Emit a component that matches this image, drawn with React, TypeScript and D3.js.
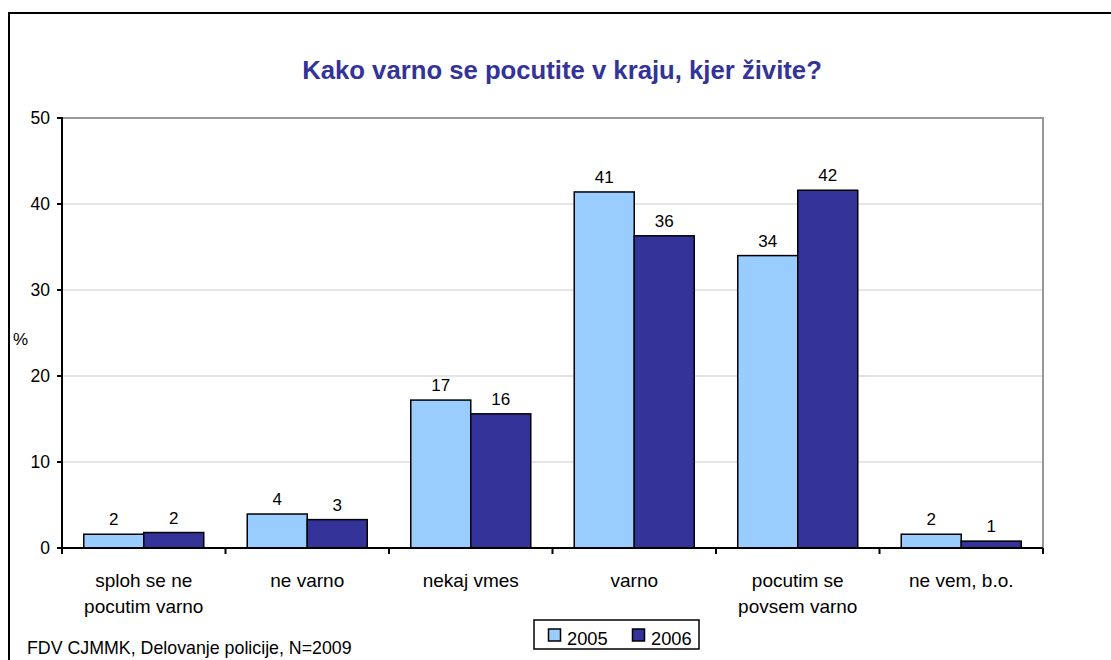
import React, { useRef, useEffect } from 'react';
import * as d3 from 'd3';

const categories = [
    ['sploh se ne', 'pocutim varno'],
    ['ne varno'],
    ['nekaj vmes'],
    ['varno'],
    ['pocutim se', 'povsem varno'],
    ['ne vem, b.o.'],
];
const seriesNames = ['2005', '2006'];
const values2005 = [1.6, 3.95, 17.2, 41.4, 34.0, 1.6];
const values2006 = [1.8, 3.3, 15.6, 36.3, 41.6, 0.8];
const labels2005 = ['2', '4', '17', '41', '34', '2'];
const labels2006 = ['2', '3', '16', '36', '42', '1'];
const yTicks = [0, 10, 20, 30, 40, 50];
const colors = ['#99CCFF', '#333399'];

const FONT = 'Arial, "Liberation Sans", sans-serif';

const App: React.FC = () => {
    const svgRef = useRef<SVGSVGElement | null>(null);
    const width = 1111;
    const height = 660;

    useEffect(() => {
        const svg = d3.select(svgRef.current);
        svg.selectAll('*').remove();

        const plot = { left: 62, top: 118, right: 1043, bottom: 548 };

        // outer frame (clipped at right and bottom)
        svg.append('rect')
            .attr('x', 9)
            .attr('y', 13)
            .attr('width', width + 20)
            .attr('height', height + 20)
            .attr('fill', 'white')
            .attr('stroke', 'black')
            .attr('stroke-width', 2);

        // title
        svg.append('text')
            .attr('x', 562)
            .attr('y', 79)
            .attr('text-anchor', 'middle')
            .style('font-family', FONT)
            .style('font-size', '25.7px')
            .style('font-weight', 'bold')
            .style('fill', '#333399')
            .text('Kako varno se pocutite v kraju, kjer živite?');

        const x = d3.scaleBand<number>()
            .domain(d3.range(categories.length))
            .range([plot.left, plot.right])
            .paddingInner(0.266)
            .paddingOuter(0.133);

        const xSeries = d3.scaleBand<number>()
            .domain(d3.range(seriesNames.length))
            .range([0, x.bandwidth()])
            .padding(0);

        const y = d3.scaleLinear()
            .domain([0, 50])
            .range([plot.bottom, plot.top]);

        // gridlines
        svg.append('g')
            .selectAll('line')
            .data(yTicks.filter(t => t > 0 && t < 50))
            .enter()
            .append('line')
            .attr('x1', plot.left)
            .attr('x2', plot.right)
            .attr('y1', d => y(d))
            .attr('y2', d => y(d))
            .style('stroke', '#dddddd')
            .style('stroke-width', '1.5px');

        // plot border top + right
        svg.append('path')
            .attr('d', `M${plot.left},${plot.top}H${plot.right}V${plot.bottom}`)
            .attr('fill', 'none')
            .style('stroke', '#999999')
            .style('stroke-width', '2px');

        // bars
        const all = [values2005, values2006];
        const labels = [labels2005, labels2006];
        all.forEach((vals, s) => {
            const g = svg.append('g');
            g.selectAll('rect')
                .data(vals)
                .enter()
                .append('rect')
                .attr('x', (d, i) => (x(i) as number) + (xSeries(s) as number))
                .attr('y', d => y(d))
                .attr('width', xSeries.bandwidth())
                .attr('height', d => y(0) - y(d))
                .attr('fill', colors[s])
                .attr('stroke', 'black')
                .attr('stroke-width', 1.5);

            g.selectAll('text')
                .data(vals)
                .enter()
                .append('text')
                .attr('x', (d, i) => (x(i) as number) + (xSeries(s) as number) + xSeries.bandwidth() / 2)
                .attr('y', d => y(d) - 9)
                .attr('text-anchor', 'middle')
                .style('font-family', FONT)
                .style('font-size', '17px')
                .text((d, i) => labels[s][i]);
        });

        // y axis
        const yAxis = svg.append('g');
        yAxis.append('line')
            .attr('x1', plot.left)
            .attr('x2', plot.left)
            .attr('y1', plot.top - 1)
            .attr('y2', plot.bottom)
            .style('stroke', 'black')
            .style('stroke-width', '2px');
        yAxis.selectAll('.tick')
            .data(yTicks)
            .enter()
            .append('line')
            .attr('x1', plot.left - 5)
            .attr('x2', plot.left)
            .attr('y1', d => y(d))
            .attr('y2', d => y(d))
            .style('stroke', 'black')
            .style('stroke-width', '2px');
        yAxis.selectAll('text')
            .data(yTicks)
            .enter()
            .append('text')
            .attr('x', plot.left - 12)
            .attr('y', d => y(d))
            .attr('dy', '0.35em')
            .attr('text-anchor', 'end')
            .style('font-family', FONT)
            .style('font-size', '17.5px')
            .text(d => d);

        svg.append('text')
            .attr('x', 13)
            .attr('y', 345)
            .style('font-family', FONT)
            .style('font-size', '17px')
            .text('%');

        // x axis
        const xAxis = svg.append('g');
        xAxis.append('line')
            .attr('x1', plot.left - 5)
            .attr('x2', plot.right)
            .attr('y1', plot.bottom)
            .attr('y2', plot.bottom)
            .style('stroke', 'black')
            .style('stroke-width', '2px');
        const step = x.step();
        xAxis.selectAll('.tick')
            .data(d3.range(categories.length + 1))
            .enter()
            .append('line')
            .attr('x1', d => plot.left + d * step)
            .attr('x2', d => plot.left + d * step)
            .attr('y1', plot.bottom)
            .attr('y2', plot.bottom + 6)
            .style('stroke', 'black')
            .style('stroke-width', '2px');
        const catText = xAxis.selectAll('.cat')
            .data(categories)
            .enter()
            .append('text')
            .attr('text-anchor', 'middle')
            .style('font-family', FONT)
            .style('font-size', '19px');
        catText.selectAll('tspan')
            .data((d, i) => d.map(line => ({ line, i })))
            .enter()
            .append('tspan')
            .attr('x', d => (x(d.i) as number) + x.bandwidth() / 2)
            .attr('y', (d, j) => 587 + j * 26)
            .text(d => d.line);

        // footer
        svg.append('text')
            .attr('x', 27)
            .attr('y', 654)
            .style('font-family', FONT)
            .style('font-size', '17.8px')
            .text('FDV CJMMK, Delovanje policije, N=2009');

        // legend
        const legend = svg.append('g').attr('transform', 'translate(534, 620)');
        legend.append('rect')
            .attr('width', 165)
            .attr('height', 29)
            .attr('fill', 'white')
            .attr('stroke', 'black')
            .attr('stroke-width', 1.5);
        seriesNames.forEach((name, i) => {
            const item = legend.append('g').attr('transform', `translate(${14.5 + i * 84}, 0)`);
            item.append('rect')
                .attr('x', 0)
                .attr('y', 9)
                .attr('width', 12)
                .attr('height', 12)
                .attr('fill', colors[i])
                .attr('stroke', 'black')
                .attr('stroke-width', 1.5);
            item.append('text')
                .attr('x', 18.5)
                .attr('y', 25)
                .style('font-family', FONT)
                .style('font-size', '18.3px')
                .text(name);
        });
    }, []);

    return (
        <svg
            ref={svgRef}
            width={width}
            height={height}
            style={{ position: 'absolute', left: 0, top: 0, background: 'white' }}
        ></svg>
    );
};

export default App;
